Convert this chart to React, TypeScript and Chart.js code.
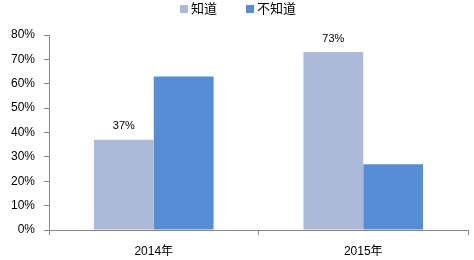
import React, { useEffect, useRef } from "react";
import { Chart, registerables } from "chart.js";

Chart.register(...registerables);

const categories = ["2014年", "2015年"];
const seriesNames = ["知道", "不知道"];
const knowValues = [37, 73];
const dontKnowValues = [63, 27];
const yTicks = [0, 10, 20, 30, 40, 50, 60, 70, 80];
const labelledSeries = [0];

const FONT = '"Liberation Sans", Arial, "Noto Sans CJK SC", sans-serif';

const labelPlugin = {
  id: "valueLabels",
  afterDatasetsDraw(chart: any) {
    const ctx = chart.ctx;
    ctx.save();
    ctx.font = `11px ${FONT}`;
    ctx.fillStyle = "#000000";
    ctx.textAlign = "center";
    ctx.textBaseline = "bottom";
    labelledSeries.forEach((di) => {
      const meta = chart.getDatasetMeta(di);
      meta.data.forEach((bar: any, i: number) => {
        const v = chart.data.datasets[di].data[i];
        ctx.fillText(`${v}%`, bar.x, bar.y - 8);
      });
    });
    ctx.restore();
  },
};

const legendPlugin = {
  id: "customLegend",
  afterDraw(chart: any) {
    const ctx = chart.ctx;
    ctx.save();
    ctx.font = `13px ${FONT}`;
    ctx.textAlign = "left";
    ctx.textBaseline = "middle";
    const boxSize = 8;
    const gap = 3;
    const itemGap = 29;
    const items = chart.data.datasets.map((d: any) => ({
      text: d.label,
      color: d.backgroundColor,
      w: boxSize + gap + ctx.measureText(d.label).width,
    }));
    const total =
      items.reduce((a: number, it: any) => a + it.w, 0) + itemGap * (items.length - 1);
    let x = Math.round(chart.width / 2 - total / 2) + 1;
    const y = 9;
    items.forEach((it: any) => {
      ctx.fillStyle = it.color;
      ctx.fillRect(x, y - 4, boxSize, boxSize);
      ctx.fillStyle = "#000000";
      ctx.fillText(it.text, x + boxSize + gap, y);
      x += it.w + itemGap;
    });
    ctx.restore();
  },
};

export default function App() {
  const ref = useRef<HTMLCanvasElement>(null);
  useEffect(() => {
    document.body.style.margin = "0";
    const chart = new Chart(ref.current!, {
      type: "bar",
      data: {
        labels: categories,
        datasets: [
          {
            label: seriesNames[0],
            data: knowValues,
            backgroundColor: "#abbbd7",
            borderWidth: 0,
          },
          {
            label: seriesNames[1],
            data: dontKnowValues,
            backgroundColor: "#558ed5",
            borderWidth: 0,
          },
        ],
      },
      options: {
        animation: false,
        responsive: false,
        maintainAspectRatio: false,
        layout: { padding: { top: 35, right: 6, left: 0, bottom: 0 } },
        datasets: {
          bar: { categoryPercentage: 0.571, barPercentage: 1 },
        },
        plugins: {
          legend: { display: false },
          tooltip: { enabled: false },
        },
        scales: {
          x: {
            grid: {
              offset: true,
              drawOnChartArea: false,
              drawTicks: true,
              tickLength: 5,
              color: "#868686",
            },
            border: { color: "#868686" },
            ticks: {
              font: { family: FONT, size: 12 },
              color: "#000000",
              padding: 9,
            },
            afterFit(s: any) {
              s.height = 30;
            },
          },
          y: {
            min: 0,
            max: 80,
            afterBuildTicks(s: any) {
              s.ticks = yTicks.map((v) => ({ value: v }));
            },
            grid: {
              drawOnChartArea: false,
              drawTicks: true,
              tickLength: 5,
              color: "#868686",
            },
            border: { color: "#868686" },
            ticks: {
              font: { family: FONT, size: 12 },
              color: "#000000",
              padding: 9,
              callback: (v: any) => `${v}%`,
            },
            afterFit(s: any) {
              s.width = 49;
            },
          },
        },
      },
      plugins: [labelPlugin, legendPlugin],
    });
    return () => chart.destroy();
  }, []);
  return (
    <div style={{ width: 474, height: 260 }}>
      <canvas ref={ref} width={474} height={260} />
    </div>
  );
}
